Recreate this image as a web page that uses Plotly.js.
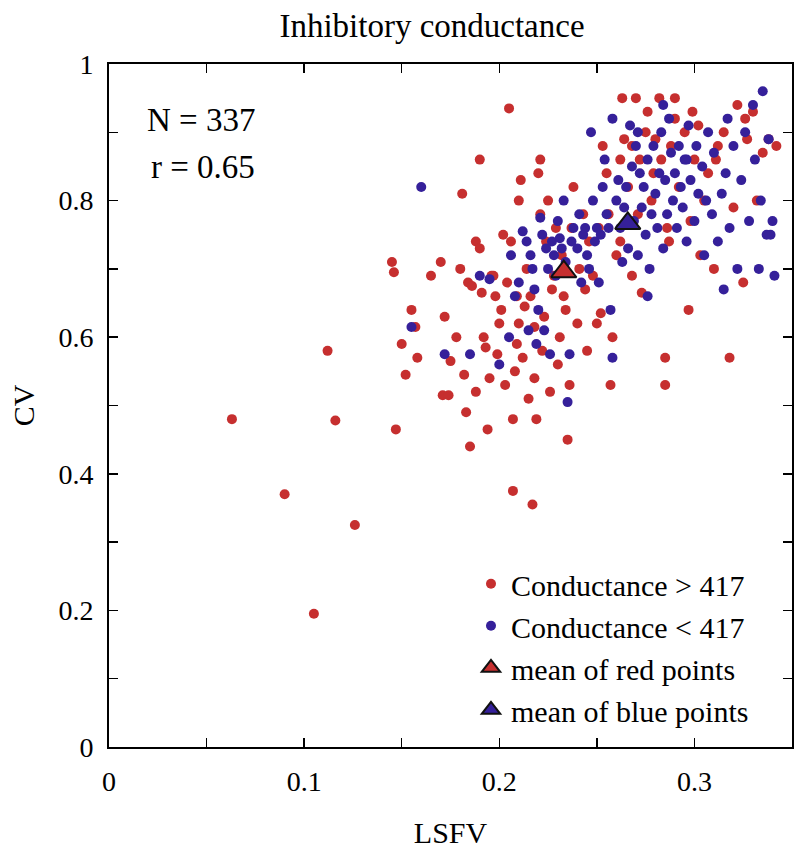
<!DOCTYPE html>
<html>
<head>
<meta charset="utf-8">
<script src="https://cdn.plot.ly/plotly-3.0.1.min.js"></script>
<style>html,body{margin:0;padding:0;background:#fff;}#chart{width:800px;height:859px;}</style>
</head>
<body>
<div id="chart"></div>
<script>
// ---- data ----
const titleText = "Inhibitory conductance";
const xTitle = "LSFV";
const yTitle = "CV";
const nCells = 337;
const rValue = 0.65;

const redLSFV = [0.063,0.090,0.105,0.112,0.116,0.126,0.147,0.145,0.146,0.150,0.152,0.155,0.157,0.158,0.165,0.170,0.171,0.174,0.172,0.175,0.178,0.180,0.181,0.182,0.183,0.184,0.185,0.186,0.188,0.188,0.190,0.190,0.191,0.192,0.193,0.194,0.195,0.196,0.198,0.199,0.200,0.201,0.202,0.203,0.204,0.205,0.206,0.207,0.207,0.208,0.209,0.210,0.210,0.211,0.212,0.213,0.214,0.215,0.216,0.217,0.218,0.218,0.219,0.220,0.221,0.222,0.223,0.224,0.225,0.226,0.227,0.228,0.229,0.230,0.231,0.232,0.233,0.234,0.235,0.236,0.237,0.238,0.240,0.241,0.243,0.245,0.246,0.248,0.250,0.251,0.252,0.253,0.255,0.256,0.257,0.258,0.260,0.262,0.263,0.264,0.266,0.268,0.270,0.271,0.272,0.273,0.275,0.276,0.278,0.280,0.282,0.283,0.285,0.285,0.287,0.288,0.290,0.290,0.292,0.295,0.297,0.298,0.300,0.302,0.303,0.305,0.307,0.310,0.312,0.315,0.318,0.320,0.322,0.325,0.327,0.330,0.332,0.335,0.338,0.342,0.244,0.262,0.268,0.279,0.286,0.299,0.311,0.326,0.233,0.221,0.209,0.197];
const redCV   = [0.480,0.370,0.195,0.580,0.478,0.325,0.465,0.710,0.695,0.590,0.545,0.640,0.615,0.570,0.690,0.710,0.515,0.515,0.630,0.565,0.600,0.700,0.810,0.545,0.490,0.680,0.440,0.675,0.520,0.740,0.860,0.730,0.665,0.600,0.585,0.465,0.540,0.690,0.660,0.575,0.620,0.640,0.750,0.530,0.680,0.935,0.740,0.375,0.480,0.550,0.590,0.620,0.800,0.830,0.570,0.645,0.700,0.510,0.660,0.355,0.615,0.540,0.480,0.840,0.860,0.580,0.630,0.740,0.800,0.520,0.670,0.690,0.760,0.560,0.600,0.720,0.660,0.640,0.450,0.530,0.760,0.820,0.620,0.700,0.780,0.580,0.740,0.690,0.620,0.760,0.635,0.880,0.840,0.780,0.530,0.600,0.720,0.860,0.950,0.890,0.820,0.690,0.950,0.780,0.860,0.665,0.900,0.930,0.800,0.890,0.950,0.860,0.570,0.530,0.740,0.880,0.920,0.950,0.820,0.900,0.640,0.770,0.860,0.910,0.720,0.800,0.840,0.700,0.880,0.900,0.570,0.790,0.940,0.680,0.890,0.930,0.800,0.870,0.890,0.880,0.670,0.740,0.880,0.840,0.760,0.930,0.860,0.920,0.700,0.780,0.660,0.690];

const blueLSFV = [0.160,0.155,0.172,0.185,0.190,0.195,0.200,0.205,0.206,0.208,0.210,0.212,0.214,0.215,0.216,0.217,0.218,0.219,0.220,0.221,0.222,0.223,0.224,0.225,0.226,0.227,0.228,0.229,0.230,0.231,0.232,0.233,0.234,0.235,0.236,0.237,0.238,0.240,0.241,0.242,0.243,0.244,0.245,0.246,0.247,0.248,0.249,0.250,0.251,0.252,0.253,0.254,0.255,0.256,0.257,0.258,0.260,0.261,0.262,0.263,0.264,0.265,0.266,0.267,0.268,0.269,0.270,0.271,0.272,0.273,0.274,0.275,0.276,0.277,0.278,0.279,0.280,0.281,0.282,0.283,0.284,0.285,0.286,0.287,0.288,0.289,0.290,0.291,0.292,0.293,0.294,0.295,0.296,0.297,0.298,0.300,0.301,0.302,0.304,0.305,0.307,0.309,0.310,0.312,0.314,0.315,0.317,0.318,0.320,0.322,0.324,0.326,0.328,0.330,0.331,0.333,0.334,0.335,0.337,0.338,0.340,0.341,0.339,0.258,0.271,0.284,0.296,0.306,0.316,0.276];
const blueCV   = [0.820,0.615,0.575,0.575,0.690,0.685,0.560,0.600,0.720,0.660,0.680,0.755,0.740,0.610,0.720,0.700,0.670,0.590,0.640,0.775,0.750,0.610,0.730,0.700,0.575,0.740,0.720,0.690,0.770,0.745,0.730,0.800,0.710,0.505,0.575,0.740,0.760,0.730,0.780,0.680,0.750,0.760,0.720,0.700,0.900,0.800,0.740,0.760,0.680,0.750,0.820,0.860,0.780,0.760,0.640,0.570,0.800,0.830,0.760,0.710,0.790,0.820,0.730,0.910,0.850,0.770,0.880,0.720,0.840,0.790,0.820,0.750,0.860,0.700,0.780,0.880,0.810,0.760,0.840,0.900,0.730,0.830,0.780,0.920,0.870,0.800,0.840,0.760,0.880,0.820,0.790,0.860,0.740,0.910,0.830,0.770,0.880,0.810,0.850,0.720,0.900,0.780,0.870,0.740,0.810,0.670,0.920,0.760,0.880,0.700,0.830,0.900,0.770,0.940,0.860,0.700,0.800,0.960,0.750,0.890,0.770,0.690,0.750,0.920,0.900,0.940,0.860,0.800,0.840,0.660];

const meanLabels = ["mean of red points","mean of blue points"];
const seriesLabels = ["Conductance > 417","Conductance < 417"];

function mean(a){ return a.reduce((s,v)=>s+v,0)/a.length; }

const RED = "#c62f2f", BLUE = "#35209a";
const FONT = "Liberation Serif, Times New Roman, serif";

const traces = [
  {x: redLSFV, y: redCV, type: "scatter", mode: "markers", name: seriesLabels[0],
   marker: {color: RED, size: 10, line: {width: 0}}},
  {x: blueLSFV, y: blueCV, type: "scatter", mode: "markers", name: seriesLabels[1],
   marker: {color: BLUE, size: 10, line: {width: 0}}},
  {x: [mean(redLSFV)], y: [mean(redCV)], type: "scatter", mode: "markers", name: meanLabels[0],
   marker: {color: RED, symbol: "triangle-up", size: 22, line: {color: "#111", width: 2}}},
  {x: [mean(blueLSFV)], y: [mean(blueCV)], type: "scatter", mode: "markers", name: meanLabels[1],
   marker: {color: BLUE, symbol: "triangle-up", size: 22, line: {color: "#111", width: 2}}}
];

const axisCommon = {
  showline: true, linecolor: "#000", linewidth: 2, mirror: "ticks",
  ticks: "inside", ticklen: 9, tickwidth: 1.5, tickcolor: "#000",
  showgrid: false, zeroline: false,
  tickfont: {family: FONT, size: 28, color: "#000"},
  ticklabelstandoff: 8
};

const layout = {
  width: 800, height: 859,
  paper_bgcolor: "#fff", plot_bgcolor: "#fff",
  margin: {l: 109, r: 8, t: 64, b: 112},
  font: {family: FONT, color: "#000"},
  title: {text: titleText, font: {family: FONT, size: 33, color: "#000"},
          x: 0.54, xanchor: "center", y: 1 - 25/859, yanchor: "middle", xref: "container", yref: "container"},
  xaxis: Object.assign({}, axisCommon, {
    range: [0, 0.35], tick0: 0, dtick: 0.1,
    minor: {dtick: 0.05, ticks: "inside", ticklen: 9, tickwidth: 1.5, tickcolor: "#000", showgrid: false},
    title: {text: xTitle, font: {family: FONT, size: 30, color: "#000"}, standoff: 26}
  }),
  yaxis: Object.assign({}, axisCommon, {
    range: [0, 1], tick0: 0, dtick: 0.2,
    minor: {dtick: 0.1, ticks: "inside", ticklen: 9, tickwidth: 1.5, tickcolor: "#000", showgrid: false},
    title: {text: yTitle, font: {family: FONT, size: 30, color: "#000"}, standoff: 15}
  }),
  showlegend: true,
  legend: {x: 0.53, y: 0.277, xanchor: "left", yanchor: "top", bgcolor: "rgba(0,0,0,0)",
           font: {family: FONT, size: 30, color: "#000"}, tracegroupgap: 0, itemwidth: 30},
  annotations: [
    {xref: "paper", yref: "paper", x: 0.134, y: 0.918, text: "N = " + nCells, showarrow: false,
     xanchor: "center", yanchor: "middle", font: {family: FONT, size: 33, color: "#000"}},
    {xref: "paper", yref: "paper", x: 0.137, y: 0.849, text: "r = " + rValue.toFixed(2), showarrow: false,
     xanchor: "center", yanchor: "middle", font: {family: FONT, size: 33, color: "#000"}}
  ]
};

Plotly.newPlot("chart", traces, layout, {displayModeBar: false, staticPlot: true});
</script>
</body>
</html>
